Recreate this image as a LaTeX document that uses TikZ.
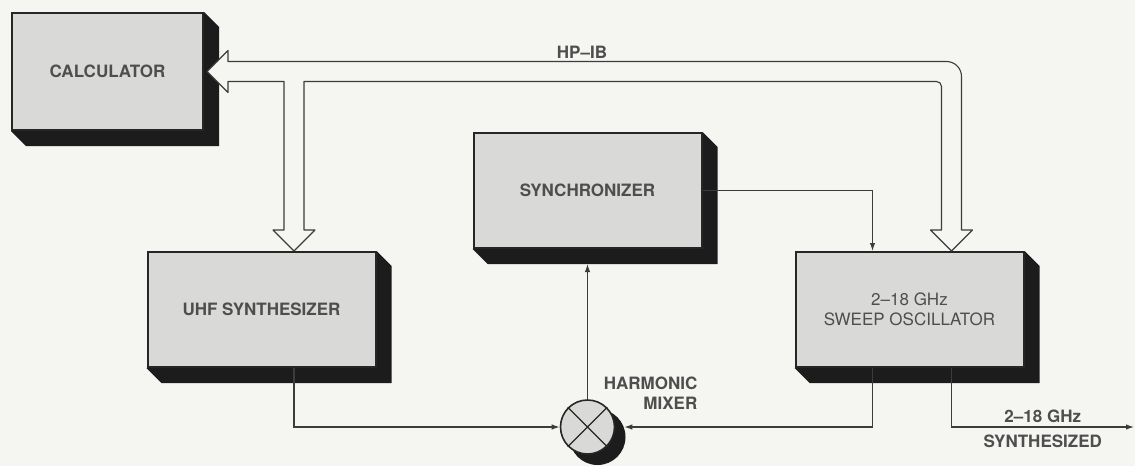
\documentclass[tikz,border=0pt]{standalone}
\usepackage{fontspec}
\setmainfont{TeX Gyre Heros}
\usetikzlibrary{arrows.meta,positioning,calc}
\definecolor{PaperTone}{HTML}{F5F5F2}
\definecolor{FaceGrey}{HTML}{D9D9D7}
\definecolor{EdgeDark}{HTML}{262626}
\definecolor{ShadeDark}{HTML}{1C1C1C}
\definecolor{InkGrey}{HTML}{4E4E4E}
\definecolor{WireGrey}{HTML}{3C3C3C}
\pgfdeclarelayer{back}
\pgfsetlayers{back,main}
\newcommand{\dropshade}[1]{%
  \fill[ShadeDark] (#1.north east) -- ++(15pt,-15pt) -- ($(#1.south east)+(15pt,-15pt)$)
    -- ($(#1.south west)+(15pt,-15pt)$) -- (#1.south west) -- cycle;}

\begin{document}
\begin{tikzpicture}[
x=1pt, y=1pt,
every node/.style={font=\fontsize{17}{20}\selectfont, text=InkGrey, align=center},
unitbox/.style={draw=EdgeDark, line width=2pt, fill=FaceGrey, minimum width=228pt, minimum height=115pt, inner sep=0pt, font=\fontsize{17}{20}\selectfont\bfseries},
mixer/.style={circle, draw=EdgeDark, line width=1.6pt, fill=FaceGrey, minimum size=54pt, inner sep=0pt},
lbl/.style={font=\fontsize{17}{20}\selectfont\bfseries},
bus/.style={draw=WireGrey, line width=1.1pt, fill=PaperTone, line join=round},
sig/.style={-{Latex[length=8pt,width=5.5pt]}, line width=1.2pt, draw=WireGrey}
]
\useasboundingbox (0,0) rectangle (1135,-466);
\node[unitbox, minimum width=191pt, minimum height=117pt] (calculator) at (107.5,-71.5) {CALCULATOR};
\node[unitbox] (sync) at (587.5,-190.5) {SYNCHRONIZER};
\node[unitbox] (uhf) at (261.5,-309.5) {UHF SYNTHESIZER};
\node[unitbox, right=418pt of uhf, font=\fontsize{17}{20}\selectfont\mdseries] (sweep) {2--18 GHz\\SWEEP OSCILLATOR};
\node[mixer] (mix) at (sync.center |- 0,-427) {};
\draw[EdgeDark, line width=1.2pt] (mix.north east) -- (mix.south west) (mix.north west) -- (mix.south east);
\node[lbl, align=right, anchor=east, inner sep=0pt] (mixlbl) at ([shift={(110pt,34pt)}]mix.center) {HARMONIC\\MIXER};
\node[lbl] (hpib) at (582,-52) {HP--IB};

\begin{pgfonlayer}{back}
\fill[PaperTone] (0,0) rectangle (1135,-466);
\dropshade{calculator}
\dropshade{sync}
\dropshade{uhf}
\dropshade{sweep}
\fill[ShadeDark] ([shift={(10pt,-10pt)}]mix.center) circle[radius=28pt];
\end{pgfonlayer}

\coordinate (tipC) at ([xshift=3pt]calculator.east);
\coordinate (tipU) at ([xshift=32.5pt]uhf.north);
\coordinate (tipS) at ([xshift=42pt]sweep.north);
\coordinate (busT) at ([yshift=10pt]tipC);
\coordinate (busB) at ([yshift=-10pt]tipC);
\coordinate (outp) at (1134,0 |- mix.center);

\draw[bus] (tipC) -- ++(21,21) -- ++(0,-11)
  -- ($(tipS |- busT)+(-5,0)$) arc[start angle=90, end angle=0, radius=15pt]
  -- ($(tipS)+(10,21)$) -- ++(11,0) -- (tipS) -- ++(-21,21) -- ++(11,0)
  -- ($(tipS |- busB)+(-10,-5)$) arc[start angle=0, end angle=90, radius=5pt]
  -- ($(tipU |- busB)+(10,0)$) -- ($(tipU)+(10,21)$) -- ++(11,0) -- (tipU) -- ++(-21,21) -- ++(11,0)
  -- ($(tipU |- busB)+(-10,0)$) -- ($(tipC)+(21,-10)$) -- ++(0,-11) -- cycle;

\draw[sig] (sync.east) -| ([xshift=-37pt]sweep.north);
\draw[sig] (mix) -- ([yshift=-15pt]sync.south);
\draw[sig] (tipU |- uhf.south) |- (mix);
\draw[sig] ([xshift=-37pt]sweep.south) |- ([xshift=9pt]mix.east);
\draw[sig] (tipS |- sweep.south) |- node[lbl, pos=0.75, above] {2--18 GHz} node[lbl, pos=0.75, below=4pt] {SYNTHESIZED} (outp);
\end{tikzpicture}
\end{document}
